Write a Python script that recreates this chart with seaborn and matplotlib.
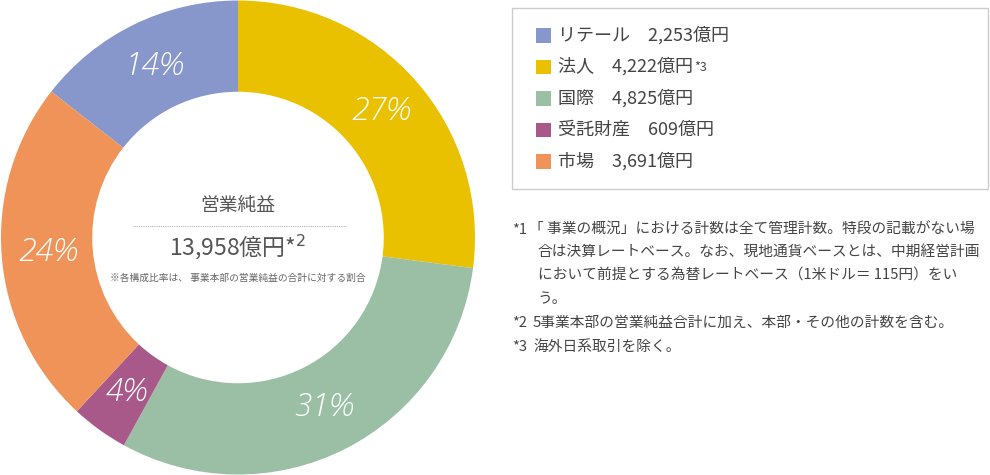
import matplotlib
matplotlib.use("Agg")
import matplotlib.pyplot as plt
from matplotlib.patches import Rectangle
import matplotlib.transforms as mtrans
import seaborn as sns

# ---- data ----
categories = ["リテール", "法人", "国際", "受託財産", "市場"]
values = [2253, 4222, 4825, 609, 3691]          # 億円
value_labels = ["2,253億円", "4,222億円", "4,825億円", "609億円", "3,691億円"]
value_notes = ["", "*3", "", "", ""]
colors = ["#8797CB", "#EAC100", "#9ABFA4", "#A8598A", "#F09358"]
center_title = "営業純益"
center_total = "13,958億円"
center_note = "※各構成比率は、 事業本部の営業純益の合計に対する割合"
footnotes = [
    ("*1", ["「 事業の概況」における計数は全て管理計数。特段の記載がない場",
            "合は決算レートベース。なお、現地通貨ベースとは、中期経営計画",
            "において前提とする為替レートベース（1米ドル＝ 115円）をい",
            "う。"]),
    ("*2", ["5事業本部の営業純益合計に加え、本部・その他の計数を含む。"]),
    ("*3", ["海外日系取引を除く。"]),
]

sns.set_theme(style="white")
plt.rcParams["font.family"] = ["Noto Sans CJK JP", "DejaVu Sans"]

TXT = "#444444"
W, H = 990, 475
fig = plt.figure(figsize=(W / 100, H / 100), dpi=100)
fig.patch.set_facecolor("white")

# ---- donut ----
ax = fig.add_axes([0, 0, 476 / W, 1])
total = sum(values)
start = 90 + values[0] / total * 360
wedges, texts, autotexts = ax.pie(
    values, colors=colors, startangle=start, counterclock=False,
    radius=1.0, wedgeprops=dict(width=0.385, linewidth=0),
    autopct=lambda p: f"{round(p)}%", pctdistance=0.805,
    textprops=dict(color="white", fontsize=23, fontstyle="italic",
                   family=["Open Sans", "DejaVu Sans"], fontweight="light"))
ax.set_xlim(-476 / 474, 476 / 474)
ax.set_ylim(-475 / 474, 475 / 474)
ax.set_aspect("equal")
ax.axis("off")

# ---- overlay in pixel coords ----
ov = fig.add_axes([0, 0, 1, 1], zorder=5)
ov.set_xlim(0, W)
ov.set_ylim(H, 0)
ov.axis("off")
ov.patch.set_alpha(0)

cx = 238
ov.text(cx, 205, center_title, ha="center", va="center", fontsize=13.5, color="#555555")
ov.plot([133, 346], [225.5, 225.5], ls=(0, (1, 1.2)), lw=0.6, color="#999999")
ov.text(cx, 247, center_total + "*$^{2}$", ha="center", va="center", fontsize=16.5, color="#555555")
ov.text(cx, 278, center_note, ha="center", va="center", fontsize=7.0, color="#666666")

# legend box
ov.add_patch(Rectangle((511.5, 7.5), 476, 181, fill=False, edgecolor="#CCCCCC", lw=1))
row_y = [35, 66.5, 98, 129.5, 161]
for i, (cat, vl, note, c) in enumerate(zip(categories, value_labels, value_notes, colors)):
    y = row_y[i]
    ov.add_patch(Rectangle((536, y - 7), 14.5, 14.5, color=c, lw=0))
    t = ov.text(558, y, cat + "\u3000" + vl, ha="left", va="center", fontsize=13, color=TXT)
    if note:
        fig.canvas.draw()
        bb = t.get_window_extent()
        ov.text(bb.x1 + 1, y + 1, note, ha="left", va="center", fontsize=9, color=TXT,
                transform=mtrans.blended_transform_factory(
                    mtrans.IdentityTransform(), ov.transData))

# footnotes
fy = 230
first_x = [529, 533, 533]
for k, (tag, lines) in enumerate(footnotes):
    ov.text(512, fy, tag, ha="left", va="center", fontsize=10.6, color=TXT)
    for j, line in enumerate(lines):
        xx = first_x[k] if j == 0 else 538
        ov.text(xx, fy, line, ha="left", va="center", fontsize=10.6, color=TXT)
        fy += 23
    fy += 1

fig.savefig("out.png", dpi=100, facecolor="white")
